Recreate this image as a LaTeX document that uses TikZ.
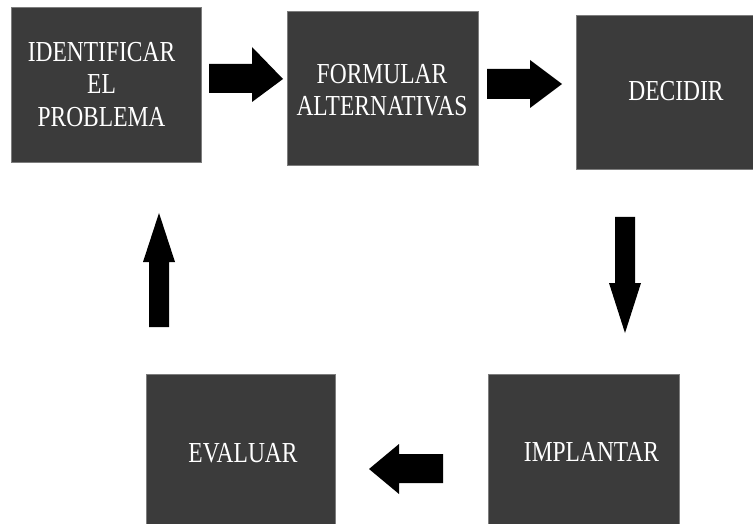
\documentclass[tikz,border=0pt]{standalone}
\usepackage{fontspec}
\usepackage{graphicx}
\setmainfont{Liberation Serif}
\newcommand\condtxt[1]{\scalebox{0.81}[1]{#1}}
\definecolor{boxgray}{RGB}{59,59,59}
\definecolor{edgegray}{RGB}{125,125,125}
\begin{document}
\begin{tikzpicture}[x=1pt,y=-1pt,
  stepbox/.style={draw=edgegray,line width=0.6pt,fill=boxgray},
  steptext/.style={text=white,font=\fontsize{29}{32.5}\selectfont,align=center,inner sep=0pt},
  blockarrow/.style={fill=black,draw=none}]
\useasboundingbox (0,0) rectangle (753,524);
% boxes
\path[stepbox] (11,7) rectangle (201,162);
\path[stepbox] (287,11) rectangle (478,165);
\path[stepbox] (576,15) rectangle (760,169);
\path[stepbox] (146,374) rectangle (335,530);
\path[stepbox] (488,374) rectangle (679,530);
% texts
\node[steptext,anchor=center] (t1) at (101.5,84.5) {\condtxt{IDENTIFICAR}\\\condtxt{EL}\\\condtxt{PROBLEMA}};
\node[steptext,anchor=center] (t2) at (382,90) {\condtxt{FORMULAR}\\\condtxt{ALTERNATIVAS}};
\node[steptext,anchor=base] (t3) at (676,101) {\condtxt{DECIDIR}};
\node[steptext,anchor=base] (t4) at (591.5,461.5) {\condtxt{IMPLANTAR}};
\node[steptext,anchor=base] (t5) at (243,462) {\condtxt{EVALUAR}};
% arrows
\fill[blockarrow] (209,64) -- (252,64) -- (252,47) -- (283,79) -- (252,102) -- (252,93) -- (209,93) -- cycle;
\fill[blockarrow] (487,69) -- (530,69) -- (530,60) -- (562,84) -- (530,108) -- (530,99) -- (487,99) -- cycle;
\fill[blockarrow] (615,217) -- (635,217) -- (635,283) -- (641,283) -- (625,333) -- (609,283) -- (615,283) -- cycle;
\fill[blockarrow] (443,454) -- (399,454) -- (399,444) -- (369,469) -- (399,494) -- (399,483) -- (443,483) -- cycle;
\fill[blockarrow] (149,327) -- (149,262) -- (143,262) -- (159,213) -- (175,262) -- (169,262) -- (169,327) -- cycle;
\end{tikzpicture}
\end{document}
